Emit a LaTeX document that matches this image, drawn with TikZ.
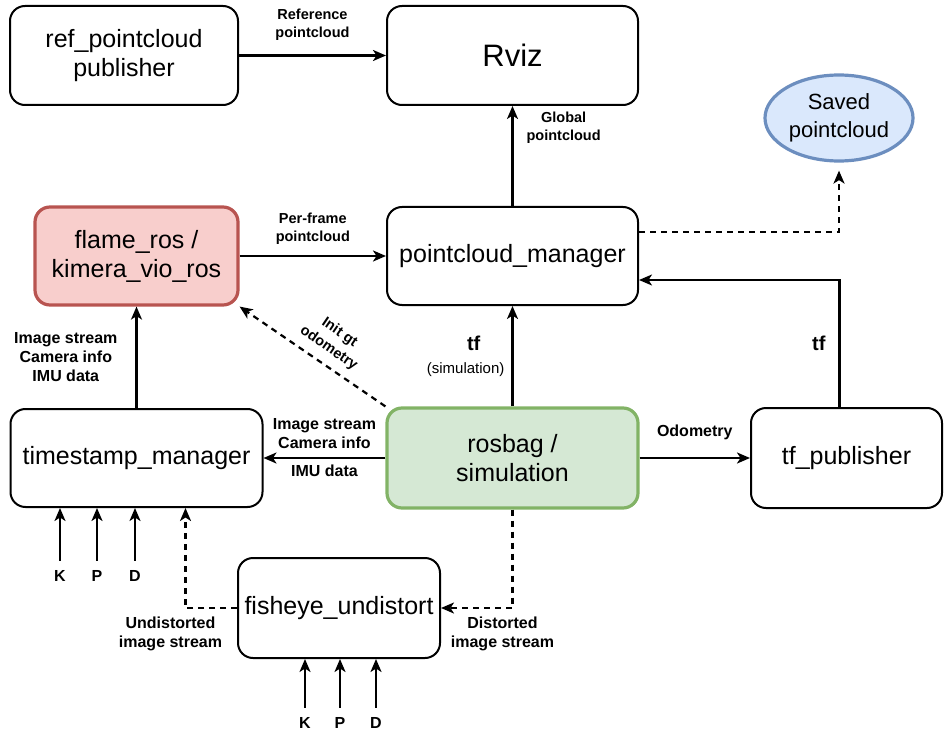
\documentclass[tikz,border=0pt]{standalone}
\usepackage{fontspec}
\setmainfont{Liberation Sans}
\usetikzlibrary{shapes.geometric, arrows.meta, positioning, calc}
\definecolor{flamef}{HTML}{F8CECC}
\definecolor{flamec}{HTML}{B85450}
\definecolor{bagf}{HTML}{D5E8D4}
\definecolor{bagc}{HTML}{82B366}
\definecolor{savedf}{HTML}{DAE8FC}
\definecolor{savedc}{HTML}{6C8EBF}

\begin{document}
\begin{tikzpicture}[
  x=1pt, y=-1pt,
  box/.style={draw, line width=2pt, rounded corners=15pt, align=center, font=\fontsize{25}{29}\selectfont},
  lbl/.style={font=\fontsize{14.5}{18}\selectfont\bfseries, align=center, inner sep=1pt},
  elbl/.style={font=\fontsize{16}{19}\selectfont\bfseries, align=center, inner sep=1pt},
  tflbl/.style={font=\fontsize{20}{24}\selectfont\bfseries, inner sep=1pt},
  arr/.style={line width=2.2pt, -{Stealth[length=13pt, width=11pt, inset=3.5pt]}},
  darr/.style={arr, dash pattern=on 6pt off 5pt},
  kpd/.style={font=\fontsize{16}{19}\selectfont\bfseries, inner sep=1pt, outer sep=9pt},
]
\useasboundingbox (0,0) rectangle (944,735);

\node[box, minimum width=228pt, minimum height=99pt] (ref) at (124,55.5) {ref\_pointcloud\\publisher};
\node[box, minimum width=251pt, minimum height=99pt, font=\fontsize{31}{36}\selectfont] (rviz) at (512.5,55.5) {Rviz};
\node[ellipse, draw=savedc, fill=savedf, line width=3.2pt, minimum width=148pt, minimum height=86pt, inner sep=0pt, align=center, font=\fontsize{22}{28}\selectfont] (saved) at (839,118) {Saved\\pointcloud};
\node[box, draw=flamec, fill=flamef, line width=3.2pt, minimum width=203pt, minimum height=98pt] (flame) at (136.5,256) {flame\_ros /\\kimera\_vio\_ros};
\node[box, minimum width=251pt, minimum height=98pt] (pcm) at (512.5,256) {pointcloud\_manager};
\node[box, minimum width=252pt, minimum height=98pt] (tsm) at (136.5,458) {timestamp\_manager};
\node[box, draw=bagc, fill=bagf, line width=3.2pt, minimum width=251pt, minimum height=100pt] (bag) at (512.5,458) {rosbag /\\simulation};
\node[box, minimum width=191pt, minimum height=100pt] (tfpub) at (846.5,458) {tf\_publisher};
\node[box, minimum width=202pt, minimum height=100pt] (fish) at (339,608) {fisheye\_undistort};

\draw[arr] (ref) -- node[lbl, above=13pt] {Reference\\pointcloud} (rviz);
\draw[arr] (pcm) -- node[lbl, pos=0.78, right=12pt] {Global\\pointcloud} (rviz);
\draw[arr] (flame) -- node[lbl, above=9pt] {Per-frame\\pointcloud} (pcm);
\draw[darr] ([yshift=24pt]pcm.east) -| ([yshift=-8pt]saved.south);
\draw[arr] (bag) -- node[pos=0.37, left=6pt, font=\fontsize{15}{18}\selectfont, inner sep=1pt] {(simulation)}
  node[tflbl, pos=0.63, left=30pt] {tf} (pcm);
\draw[arr] ([xshift=-7pt]tfpub.north) |- node[tflbl, pos=0.25, left=12pt] {tf} ([yshift=-24pt]pcm.east);
\draw[arr] (bag) -- node[elbl, above=16pt] {Odometry} (tfpub);
\draw[arr] (bag) -- node[elbl, above=7pt] {Image stream\\Camera info} node[elbl, below=5pt] {IMU data} (tsm);
\draw[arr] (tsm) -- node[elbl, left=17pt] {Image stream\\Camera info\\IMU data} (flame);
\draw[darr] (bag.north west) -- node[lbl, pos=0.45, sloped, above=7pt, font=\fontsize{14.5}{19}\selectfont\bfseries] {Init gt\\odometry} (flame.south east);
\draw[darr] (fish.west) -| node[elbl, pos=0.5, below=7pt, xshift=-15pt] {Undistorted\\image stream} ([xshift=49pt]tsm.south);
\draw[darr] (bag.south) |- node[elbl, pos=0.57, below=7pt] {Distorted\\image stream} (fish.east);

\foreach \lab/\xx in {K/60, P/97, D/135} {
  \node[kpd] (t\lab) at (\xx,576) {\lab};
  \draw[arr] (t\lab) -- (t\lab |- tsm.south);
}
\foreach \lab/\xx in {K/305, P/340, D/376} {
  \node[kpd] (f\lab) at (\xx,723) {\lab};
  \draw[arr] (f\lab) -- (f\lab |- fish.south);
}
\end{tikzpicture}
\end{document}
